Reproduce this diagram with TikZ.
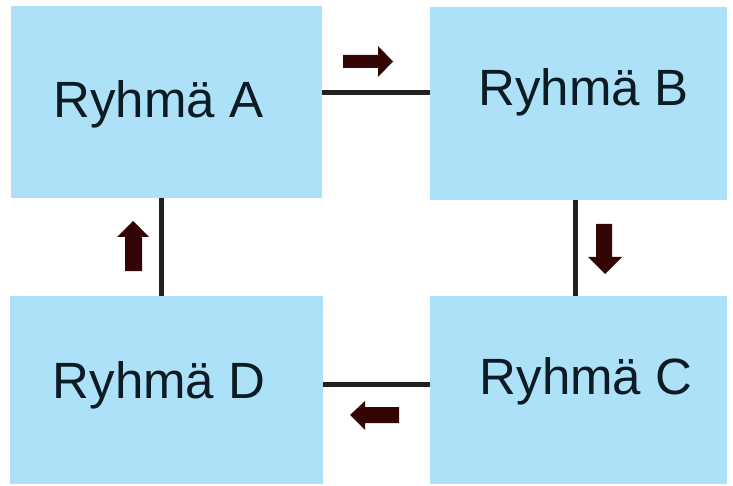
\documentclass[tikz,border=0pt]{standalone}
\usepackage{fontspec}
\setmainfont{Liberation Sans}
\definecolor{boxfill}{HTML}{ADE1F8}
\definecolor{txtcol}{HTML}{0C1B24}
\definecolor{arrcol}{HTML}{330505}
\definecolor{linecol}{HTML}{231F20}
\begin{document}
\begin{tikzpicture}[x=1pt,y=-1pt,
  groupbox/.style={fill=boxfill,draw=none,inner sep=0pt,outer sep=0pt},
  grouplabel/.style={anchor=base,text=txtcol,inner sep=0pt,font=\fontsize{51}{60}\selectfont},
  linkline/.style={draw=linecol,line width=5pt},
  blockarrow/.style={fill=arrcol,draw=none}]
\useasboundingbox (0,0) rectangle (733,486);
\fill[white] (0,0) rectangle (733,486);
% boxes
\node[groupbox,minimum width=311pt,minimum height=192pt] (A) at (166.5,102) {};
\node[groupbox,minimum width=297pt,minimum height=193pt] (B) at (578.5,103.5) {};
\node[groupbox,minimum width=297pt,minimum height=188pt] (C) at (578.5,390) {};
\node[groupbox,minimum width=313pt,minimum height=188pt] (D) at (166.5,390) {};
% labels
\node[grouplabel] (tA) at (158.5,118) {Ryhmä A};
\node[grouplabel] (tB) at (583.5,106) {Ryhmä B};
\node[grouplabel] (tC) at (586,394) {Ryhmä C};
\node[grouplabel] (tD) at (159,398) {Ryhmä D};
% connectors
\draw[linkline] (A.east |- 0,93) -- (B.west |- 0,93);
\draw[linkline] (B.south -| 575,0) -- (C.north -| 575,0);
\draw[linkline] (C.west |- 0,384.5) -- (D.east |- 0,384.5);
\draw[linkline] (D.north -| 161.5,0) -- (A.south -| 161.5,0);
% block arrows
\fill[blockarrow] (343,55) -- (378,55) -- (378,46) -- (393,61.5) -- (378,77) -- (378,68) -- (343,68) -- cycle;
\fill[blockarrow] (596,224) -- (612,224) -- (612,257) -- (622,257) -- (605,274) -- (588,257) -- (596,257) -- cycle;
\fill[blockarrow] (399,407) -- (365,407) -- (365,401) -- (350,415) -- (365,430) -- (365,423) -- (399,423) -- cycle;
\fill[blockarrow] (125,271) -- (142,271) -- (142,237) -- (149,237) -- (133,221) -- (117,237) -- (125,237) -- cycle;
\end{tikzpicture}
\end{document}
